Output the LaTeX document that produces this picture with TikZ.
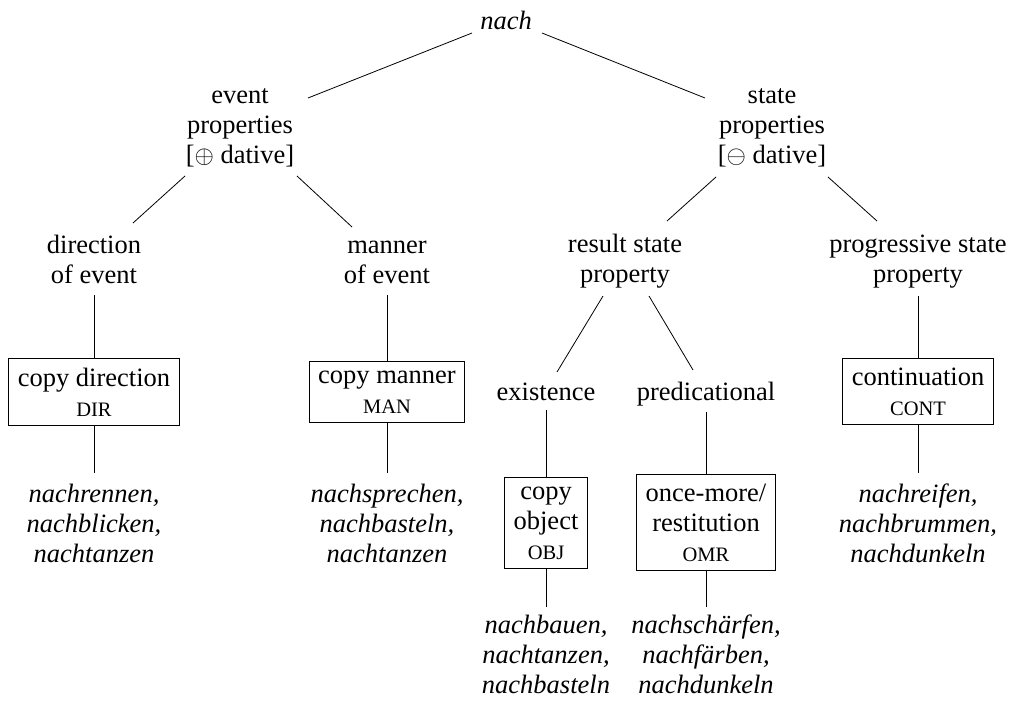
\documentclass[tikz,border=0pt]{standalone}
\usepackage{fontspec}
\setmainfont{Liberation Serif}
\newcommand{\smc}[1]{{\fontsize{20.5}{30}\selectfont #1}}
\tikzset{
  lbl/.style={anchor=base, align=center, inner sep=0pt, font=\fontsize{26.5}{30}\selectfont},
  leaf/.style={lbl, font=\fontsize{26.5}{30}\selectfont\itshape},
  boxnode/.style={anchor=base, align=center, draw, line width=0.8pt, inner sep=9pt, font=\fontsize{26.5}{30}\selectfont},
  edge/.style={line width=0.8pt}
}
\begin{document}
\begin{tikzpicture}[x=1pt,y=-1pt]
\useasboundingbox (0,0) rectangle (1009,702);
% level 0
\node[leaf] (nach) at (506,29) {nach};
% level 1 (base = last line)
\node[lbl] (ev) at (240,163) {event\\properties\\{}[$\oplus$ dative]};
\node[lbl] (st) at (772,163) {state\\properties\\{}[$\ominus$ dative]};
% level 2
\node[lbl] (dir) at (94,283) {direction\\of event};
\node[lbl] (man) at (387,283) {manner\\of event};
\node[lbl] (res) at (625,282) {result state\\property};
\node[lbl] (prog) at (918,282) {progressive state\\property};
% level 3
\node[lbl] (exist) at (546,400) {existence};
\node[lbl] (pred) at (706,400) {predicational};
% boxes
\node[boxnode] (bdir) at (94,416) {copy direction\\\smc{DIR}};
\node[boxnode] (bman) at (387,413) {copy manner\\\smc{MAN}};
\node[boxnode] (bcont) at (918,415) {continuation\\\smc{CONT}};
\node[boxnode] (bobj) at (546,559) {copy\\object\\\smc{OBJ}};
\node[boxnode] (bomr) at (706,561) {once-more/\\restitution\\\smc{OMR}};
% leaves
\node[leaf] (ldir) at (94,562) {nachrennen,\\nachblicken,\\nachtanzen};
\node[leaf] (lman) at (387,562) {nachsprechen,\\nachbasteln,\\nachtanzen};
\node[leaf] (lcont) at (918,562) {nachreifen,\\nachbrummen,\\nachdunkeln};
\node[leaf] (lobj) at (546,693) {nachbauen,\\nachtanzen,\\nachbasteln};
\node[leaf] (lomr) at (706,693) {nachschärfen,\\nachfärben,\\nachdunkeln};
% slanted edges
\draw[edge] ([shift={(-34,4)}]nach.base) -- ([shift={(68,-65)}]ev.base);
\draw[edge] ([shift={(36,4)}]nach.base) -- ([shift={(-67,-65)}]st.base);
\draw[edge] ([shift={(-55,13)}]ev.base) -- ([shift={(39,-60)}]dir.base);
\draw[edge] ([shift={(57,13)}]ev.base) -- ([shift={(-35,-56)}]man.base);
\draw[edge] ([shift={(-56,14)}]st.base) -- ([shift={(42,-61)}]res.base);
\draw[edge] ([shift={(56,14)}]st.base) -- ([shift={(-41,-61)}]prog.base);
\draw[edge] ([shift={(-22,14)}]res.base) -- ([shift={(11,-28)}]exist.base);
\draw[edge] ([shift={(24,14)}]res.base) -- ([shift={(-13,-30)}]pred.base);
% vertical edges
\draw[edge] ([shift={(0,12)}]dir.base) -- (bdir.north);
\draw[edge] (bdir.south) -- ([shift={(0,-89)}]ldir.base);
\draw[edge] ([shift={(0,12)}]man.base) -- (bman.north);
\draw[edge] (bman.south) -- ([shift={(0,-89)}]lman.base);
\draw[edge] ([shift={(0,14)}]prog.base) -- (bcont.north);
\draw[edge] (bcont.south) -- ([shift={(0,-89)}]lcont.base);
\draw[edge] ([shift={(0,10)}]exist.base) -- (bobj.north);
\draw[edge] (bobj.south) -- ([shift={(0,-86)}]lobj.base);
\draw[edge] ([shift={(0,12)}]pred.base) -- (bomr.north);
\draw[edge] (bomr.south) -- ([shift={(0,-86)}]lomr.base);
\end{tikzpicture}
\end{document}
